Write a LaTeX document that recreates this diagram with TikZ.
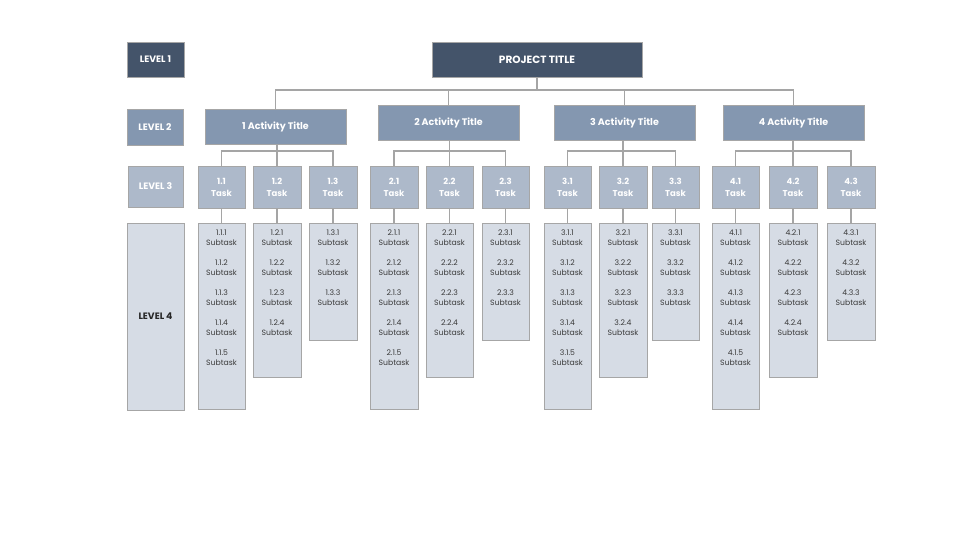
\documentclass[tikz,border=0pt]{standalone}
\usepackage{fontspec}
\setmainfont{Poppins}
\definecolor{lvA}{HTML}{44546A}
\definecolor{lvB}{HTML}{8497B0}
\definecolor{lvC}{HTML}{ADB9CA}
\definecolor{lvD}{HTML}{D6DCE5}
\definecolor{connc}{HTML}{A5A5A5}
\definecolor{edgec}{HTML}{A6A6A6}
\definecolor{txtd}{HTML}{3A3A3A}
\newcommand\boxat[7]{\node[#6,minimum width={#4pt-#2pt},minimum height={#5pt-#3pt}] (#1) at ({(#2+#4)/2},{(#3+#5)/2}) {#7};}
\begin{document}
\begin{tikzpicture}[x=1pt,y=-1pt,
  basebox/.style={draw=edgec,line width=0.6pt,inner sep=0pt,outer sep=0pt,align=center},
  l1box/.style={basebox,fill=lvA,text=white,font=\bfseries\fontsize{10.5}{12}\selectfont},
  l2box/.style={basebox,fill=lvB,text=white,font=\bfseries\fontsize{9.5}{11}\selectfont},
  l3box/.style={basebox,fill=lvC,text=white,font=\bfseries\fontsize{8.5}{12}\selectfont},
  l4box/.style={basebox,fill=lvD,draw=edgec,line width=0.8pt,text=txtd,font=\bfseries\fontsize{8}{10}\selectfont},
  lvlbl/.style={font=\bfseries\fontsize{9.3}{11}\selectfont},
  subtxt/.style={inner sep=0pt,align=center,text=txtd,font=\fontsize{7.7}{10}\selectfont},
  conn/.style={draw=connc,line width=1.3pt}]
\useasboundingbox[fill=white] (0,0) rectangle (965,555);
% level labels
\boxat{L1}{127}{42}{184}{77}{l1box,lvlbl}{LEVEL 1}
\boxat{L2}{127}{109}{183}{145}{l2box,lvlbl}{LEVEL 2}
\boxat{L3}{128}{166}{183}{207}{l3box,lvlbl}{LEVEL 3}
\boxat{L4}{127}{223}{184}{410}{l4box,lvlbl,text=black!85}{LEVEL 4}
% project
\boxat{proj}{432}{42}{642}{77}{l1box}{PROJECT TITLE}
% activities
\boxat{act1}{205}{109}{346}{144}{l2box}{1 Activity Title}
\boxat{act2}{378}{105}{519}{140}{l2box}{2 Activity Title}
\boxat{act3}{554}{105}{695}{140}{l2box}{3 Activity Title}
\boxat{act4}{723}{105}{864}{140}{l2box}{4 Activity Title}
% tasks and subtasks
\foreach \g/\t/\l/\r in {1/1/198/245,1/2/253/301,1/3/309/357,
                         2/1/370/418,2/2/426/473,2/3/482/529,
                         3/1/544/591,3/2/599/647,3/3/652/699,
                         4/1/712/759,4/2/769/817,4/3/827/875}{
  \boxat{task\g\t}{\l}{166}{\r}{208}{l3box}{\g.\t\\Task}
  \pgfmathsetmacro\bot{\ifcase\t\or409\or377\or340\fi}
  \pgfmathtruncatemacro\nn{6-\t}
  \boxat{sub\g\t}{\l}{223}{\r}{\bot}{l4box}{}
  \foreach \k in {1,...,\nn}{
    \node[subtxt] (s\g\t\k) at ({(\l+\r)/2},{208+30*\k}) {\g.\t.\k\\Subtask};
  }
  \draw[conn] (task\g\t.south) -- (sub\g\t.north);
}
% connectors level 1 -> level 2
\coordinate (b0) at (0,90);
\draw[conn] (proj.south) -- (proj.south |- b0);
\draw[conn] (act1.north) -- (act1.north |- b0) -- (act4.north |- b0) -- (act4.north);
\draw[conn] (act2.north) -- (act2.north |- b0);
\draw[conn] (act3.north) -- (act3.north |- b0);
% connectors level 2 -> level 3
\coordinate (b1) at (0,151);
\foreach \g in {1,2,3,4}{
  \draw[conn] (task\g1.north) -- (task\g1.north |- b1) -- (task\g3.north |- b1) -- (task\g3.north);
  \draw[conn] (task\g2.north) -- (task\g2.north |- act\g.south);
}
\end{tikzpicture}
\end{document}
